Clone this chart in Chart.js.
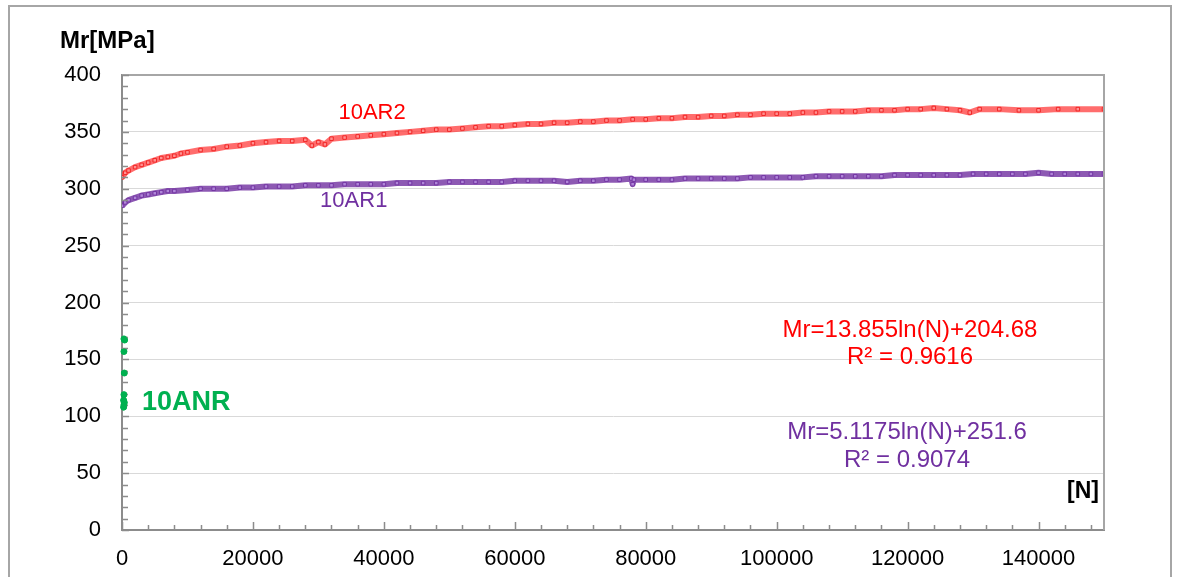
<!DOCTYPE html>
<html>
<head>
<meta charset="utf-8">
<script src="https://cdn.jsdelivr.net/npm/chart.js@4"></script>
<style>
  body { margin: 0; background: #fff; }
  #wrap { position: relative; width: 1177px; height: 577px; overflow: hidden; }
  #frame { position: absolute; left: 8px; top: 5px; width: 1160px; height: 620px; border: 2px solid #a6a6a6; }
  canvas { position: absolute; left: 0; top: 0; }
</style>
</head>
<body>
<div id="wrap">
  <div id="frame"></div>
  <canvas id="chart" width="1177" height="577"></canvas>
</div>
<script>
// 10AR2 (red) - N cycles and Mr [MPa]
const ar2N = [0, 500, 1000, 2000, 3000, 4000, 5000, 6000, 7000, 8000, 9000, 10000, 12000, 14000, 16000,
  18000, 20000, 22000, 24000, 26000, 28000, 29000, 30000, 31000, 32000, 34000, 36000, 38000, 40000,
  42000, 44000, 46000, 48000, 50000, 52000, 54000, 56000, 58000, 60000, 62000, 64000, 66000, 68000,
  70000, 72000, 74000, 76000, 78000, 80000, 82000, 84000, 86000, 88000, 90000, 92000, 94000, 96000,
  98000, 100000, 102000, 104000, 106000, 108000, 110000, 112000, 114000, 116000, 118000, 120000,
  122000, 124000, 126000, 128000, 129500, 131000, 134000, 137000, 140000, 143000, 146000, 150000];
const ar2Mr = [310, 314, 316, 319, 321, 323, 325, 327, 328, 329, 331, 332, 334, 335, 337,
  338, 340, 341, 342, 342, 343, 338, 341, 339, 344, 345, 346, 347, 348,
  349, 350, 351, 352, 352, 353, 354, 355, 355, 356, 357, 357, 358, 358,
  359, 359, 360, 360, 361, 361, 362, 362, 363, 363, 364, 364, 365, 365,
  366, 366, 366, 367, 367, 368, 368, 368, 369, 369, 369, 370,
  370, 371, 370, 369, 367, 370, 370, 369, 369, 370, 370, 370];

// 10AR1 (purple)
const ar1N = [0, 500, 1000, 2000, 3000, 4000, 5000, 6000, 7000, 8000, 10000, 12000, 14000, 16000, 18000,
  20000, 22000, 24000, 26000, 28000, 30000, 32000, 34000, 36000, 38000, 40000, 42000, 44000, 46000,
  48000, 50000, 52000, 54000, 56000, 58000, 60000, 62000, 64000, 66000, 68000, 70000, 72000, 74000,
  76000, 77800, 78000, 78200, 80000, 82000, 84000, 86000, 88000, 90000, 92000, 94000, 96000, 98000,
  100000, 102000, 104000, 106000, 108000, 110000, 112000, 114000, 116000, 118000, 120000, 122000,
  124000, 126000, 128000, 130000, 132000, 134000, 136000, 138000, 140000, 142000, 144000, 146000,
  148000, 150000];
const ar1Mr = [285, 288, 290, 292, 294, 295, 296, 297, 298, 298, 299, 300, 300, 300, 301,
  301, 302, 302, 302, 303, 303, 303, 304, 304, 304, 304, 305, 305, 305,
  305, 306, 306, 306, 306, 306, 307, 307, 307, 307, 306, 307, 307, 308,
  308, 309, 304, 308, 308, 308, 308, 309, 309, 309, 309, 309, 310, 310,
  310, 310, 310, 311, 311, 311, 311, 311, 311, 312, 312, 312,
  312, 312, 312, 313, 313, 313, 313, 313, 314, 313, 313, 313,
  313, 313];

// 10ANR (green)
const anrN = [300, 400, 300, 350, 300, 250, 350, 300, 250];
const anrMr = [168, 167, 157, 138, 119, 114, 112, 110, 108];

const xTicks = [0, 20000, 40000, 60000, 80000, 100000, 120000, 140000];
const yTicks = [0, 50, 100, 150, 200, 250, 300, 350, 400];

const toPoints = (xs, ys) => xs.map((x, i) => ({ x, y: ys[i] }));

const RED = '#ff0000';
const PURPLE = '#7030a0';
const GREEN = '#00b050';
const AXIS = '#8c8c8c';
const FONT = '"Liberation Sans", Arial, sans-serif';

const extras = {
  id: 'extras',
  afterDraw(chart) {
    const { ctx, chartArea: a, scales: { x, y } } = chart;
    ctx.save();
    // top and right frame of plot area
    ctx.strokeStyle = '#a6a6a6';
    ctx.lineWidth = 2;
    ctx.beginPath();
    ctx.moveTo(a.left, a.top);
    ctx.lineTo(a.right, a.top);
    ctx.lineTo(a.right, a.bottom);
    ctx.stroke();
    // minor / major ticks, pointing inside
    ctx.strokeStyle = AXIS;
    ctx.lineWidth = 1.5;
    ctx.beginPath();
    for (let v = 0; v <= 400; v += 10) {
      const py = Math.round(y.getPixelForValue(v)) + 0.5;
      const len = v % 50 === 0 ? 7 : 6;
      ctx.moveTo(a.left, py);
      ctx.lineTo(a.left + len, py);
    }
    for (let v = 0; v <= 150000; v += 4000) {
      const px = Math.round(x.getPixelForValue(v)) + 0.5;
      const len = v % 20000 === 0 ? 8 : 5;
      ctx.moveTo(px, a.bottom);
      ctx.lineTo(px, a.bottom - len);
    }
    ctx.stroke();

    // green points sit on top of the axis line
    const anr = chart.getDatasetMeta(2);
    ctx.fillStyle = GREEN;
    anr.data.forEach((p) => {
      ctx.beginPath();
      ctx.arc(p.x, p.y, 3, 0, Math.PI * 2);
      ctx.fill();
    });

    const txt = (s, px, py, color, font, align) => {
      ctx.fillStyle = color;
      ctx.font = font;
      ctx.textAlign = align || 'center';
      ctx.textBaseline = 'middle';
      ctx.fillText(s, px, py);
    };
    txt('Mr[MPa]', 60, 41, '#000', 'bold 24px ' + FONT, 'left');
    txt('[N]', 1099, 492, '#000', 'bold 23px ' + FONT, 'right');
    txt('10AR2', x.getPixelForValue(38200), y.getPixelForValue(367), RED, '22px ' + FONT);
    txt('10AR1', x.getPixelForValue(35400), y.getPixelForValue(289), PURPLE, '22px ' + FONT);
    txt('10ANR', x.getPixelForValue(9800), y.getPixelForValue(112), GREEN, 'bold 27px ' + FONT);
    txt('Mr=13.855ln(N)+204.68', 910, 330, RED, '24px ' + FONT);
    txt('R\u00b2 = 0.9616', 910, 357, RED, '24px ' + FONT);
    txt('Mr=5.1175ln(N)+251.6', 907, 432, PURPLE, '24px ' + FONT);
    txt('R\u00b2 = 0.9074', 907, 460, PURPLE, '24px ' + FONT);
    ctx.restore();
  },
};

new Chart(document.getElementById('chart'), {
  type: 'scatter',
  data: {
    datasets: [
      {
        label: '10AR2',
        data: toPoints(ar2N, ar2Mr),
        showLine: true,
        borderColor: 'rgba(255, 60, 60, 0.75)',
        borderWidth: 6,
        borderJoinStyle: 'round',
        pointStyle: 'rect',
        pointRadius: 2.5,
        pointBackgroundColor: 'rgba(255, 150, 150, 0.9)',
        pointBorderColor: 'rgba(240, 30, 30, 0.9)',
        pointBorderWidth: 1,
      },
      {
        label: '10AR1',
        data: toPoints(ar1N, ar1Mr),
        showLine: true,
        borderColor: 'rgba(112, 48, 160, 0.8)',
        borderWidth: 6,
        borderJoinStyle: 'round',
        pointStyle: 'rect',
        pointRadius: 2.5,
        pointBackgroundColor: 'rgba(180, 140, 220, 0.9)',
        pointBorderColor: 'rgba(112, 48, 160, 0.9)',
        pointBorderWidth: 1,
      },
      {
        label: '10ANR',
        data: toPoints(anrN, anrMr),
        pointStyle: 'circle',
        pointRadius: 3,
        pointBackgroundColor: GREEN,
        pointBorderColor: GREEN,
        clip: false,
      },
    ],
  },
  options: {
    responsive: false,
    animation: false,
    layout: { padding: { top: 75, right: 73, left: 0, bottom: 0 } },
    plugins: { legend: { display: false }, tooltip: { enabled: false } },
    scales: {
      x: {
        type: 'linear',
        min: 0,
        max: 150000,
        afterFit: (s) => { s.height = 47; },
        afterBuildTicks: (s) => { s.ticks = xTicks.map((v) => ({ value: v })); },
        ticks: {
          color: '#000',
          padding: 16,
          font: { family: FONT, size: 22 },
          callback: (v) => String(v),
          maxRotation: 0,
          autoSkip: false,
        },
        grid: { display: false, drawTicks: false },
        border: { color: AXIS, width: 2 },
      },
      y: {
        min: 0,
        max: 400,
        afterFit: (s) => { s.width = 122; },
        afterBuildTicks: (s) => { s.ticks = yTicks.map((v) => ({ value: v })); },
        ticks: {
          color: '#000',
          padding: 21,
          font: { family: FONT, size: 22 },
        },
        grid: { color: '#d9d9d9', lineWidth: 1, drawTicks: false },
        border: { color: AXIS, width: 2 },
      },
    },
  },
  plugins: [extras],
});
</script>
</body>
</html>
